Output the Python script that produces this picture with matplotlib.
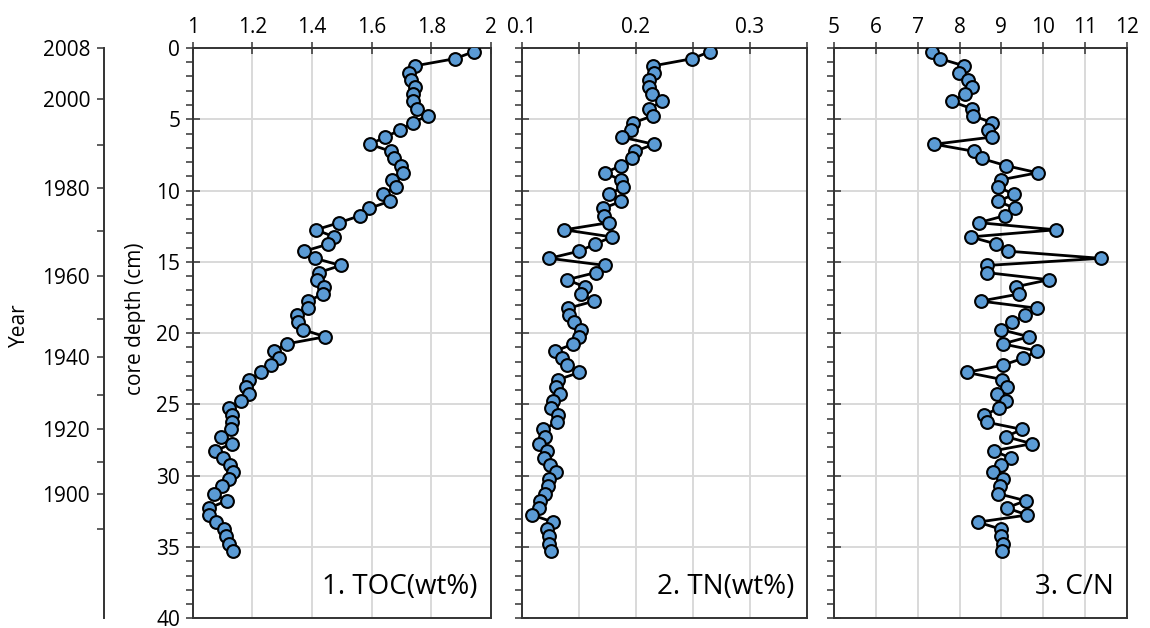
import numpy as np
import matplotlib
matplotlib.use("Agg")
from matplotlib import pyplot as plt
from matplotlib.ticker import MultipleLocator, FuncFormatter

plt.rcParams['font.family'] = ['Open Sans', 'DejaVu Sans']

# sample depths (cm), one every half centimetre
depth = [0.25, 0.75, 1.25, 1.75, 2.25, 2.75, 3.25, 3.75, 4.25, 4.75,
         5.25, 5.75, 6.25, 6.75, 7.25, 7.75, 8.25, 8.75, 9.25, 9.75,
         10.25, 10.75, 11.25, 11.75, 12.25, 12.75, 13.25, 13.75, 14.25, 14.75,
         15.25, 15.75, 16.25, 16.75, 17.25, 17.75, 18.25, 18.75, 19.25, 19.75,
         20.25, 20.75, 21.25, 21.75, 22.25, 22.75, 23.25, 23.75, 24.25, 24.75,
         25.25, 25.75, 26.25, 26.75, 27.25, 27.75, 28.25, 28.75, 29.25, 29.75,
         30.25, 30.75, 31.25, 31.75, 32.25, 32.75, 33.25, 33.75, 34.25, 34.75,
         35.25]

toc = [1.943, 1.879, 1.746, 1.726, 1.731, 1.745, 1.740, 1.740, 1.753, 1.787,
       1.737, 1.695, 1.645, 1.594, 1.664, 1.674, 1.699, 1.704, 1.668, 1.680,
       1.639, 1.660, 1.591, 1.562, 1.491, 1.413, 1.475, 1.455, 1.374, 1.410,
       1.496, 1.422, 1.416, 1.441, 1.435, 1.388, 1.388, 1.349, 1.352, 1.369,
       1.444, 1.315, 1.274, 1.289, 1.263, 1.228, 1.188, 1.177, 1.188, 1.162,
       1.122, 1.131, 1.131, 1.127, 1.096, 1.131, 1.075, 1.102, 1.124, 1.136,
       1.120, 1.099, 1.070, 1.114, 1.056, 1.056, 1.077, 1.104, 1.111, 1.120,
       1.136]

tn = [0.2650, 0.2495, 0.2154, 0.2162, 0.2113, 0.2113, 0.2139, 0.2230, 0.2119, 0.2148,
      0.1978, 0.1958, 0.1876, 0.2157, 0.1993, 0.1967, 0.1873, 0.1727, 0.1867, 0.1891,
      0.1762, 0.1873, 0.1710, 0.1721, 0.1762, 0.1374, 0.1789, 0.1643, 0.1502, 0.1242,
      0.1733, 0.1648, 0.1397, 0.1552, 0.1517, 0.1634, 0.1406, 0.1415, 0.1462, 0.1520,
      0.1502, 0.1453, 0.1295, 0.1350, 0.1400, 0.1505, 0.1321, 0.1298, 0.1336, 0.1272,
      0.1257, 0.1315, 0.1310, 0.1184, 0.1204, 0.1152, 0.1219, 0.1196, 0.1248, 0.1298,
      0.1242, 0.1234, 0.1204, 0.1164, 0.1152, 0.1091, 0.1277, 0.1225, 0.1237, 0.1242,
      0.1254]

cn = [7.333, 7.532, 8.105, 7.994, 8.209, 8.288, 8.129, 7.811, 8.288, 8.328,
      8.782, 8.686, 8.766, 7.396, 8.352, 8.527, 9.108, 9.865, 8.981, 8.909,
      9.307, 8.925, 9.323, 9.092, 8.463, 10.295, 8.264, 8.877, 9.164, 11.369,
      8.662, 8.646, 10.135, 9.339, 9.427, 8.503, 9.857, 9.554, 9.259, 8.989,
      9.658, 9.029, 9.857, 9.522, 9.029, 8.169, 9.021, 9.140, 8.901, 9.108,
      8.933, 8.591, 8.662, 9.498, 9.100, 9.729, 8.814, 9.220, 8.981, 8.790,
      9.029, 8.965, 8.917, 9.578, 9.124, 9.618, 8.439, 8.989, 8.989, 9.029,
      9.013]

# age model: depth of each decade mark
years = [2008, 2000, 1990, 1980, 1970, 1960, 1950, 1940, 1930, 1920, 1910, 1900, 1890]
year_depths = [0, 3.57, 6.8, 9.8, 12.8, 16.0, 19.0, 21.7, 24.3, 26.74, 29.0, 31.27, 33.73]

panel_titles = ['1. TOC(wt%)', '2. TN(wt%)', '3. C/N']

spine_col = '#333333'
fs = 15

fig = plt.figure(figsize=(11.5, 6.28), dpi=100)
bot, hgt = 0.0153, 0.9083
lefts = [0.1676, 0.4537, 0.7252]
widths = [0.2594, 0.2481, 0.2548]


def style_panel(ax, xmin, xmax, step, label_fn):
    ax.set_xlim(xmin, xmax)
    ax.set_ylim(40, 0)
    ax.xaxis.set_major_locator(MultipleLocator(step))
    ax.xaxis.set_major_formatter(FuncFormatter(label_fn))
    ax.yaxis.set_major_locator(MultipleLocator(5))
    ax.yaxis.set_minor_locator(MultipleLocator(1))
    ax.xaxis.tick_top()
    ax.tick_params(axis='x', which='major', direction='inout', length=8, width=1.1,
                   color=spine_col, labelsize=fs, pad=3)
    ax.tick_params(axis='y', which='major', direction='inout', length=10, width=1.1,
                   color=spine_col, labelsize=fs, pad=4)
    ax.tick_params(axis='y', which='minor', direction='out', length=5, width=1.1,
                   color=spine_col)
    ax.grid(True, which='major', color='#d9d9d9', linewidth=1.4)
    ax.set_axisbelow(True)
    for s in ax.spines.values():
        s.set_color(spine_col)
        s.set_linewidth(1.4)


def plot_profile(ax, vals, title):
    ax.plot(vals, depth, color='black', lw=2.0, marker='o', ms=9.2,
            mfc='#5b9bd5', mec='black', mew=1.5, zorder=3)
    ax.text(0.955, 0.055, title, transform=ax.transAxes, ha='right', va='center',
            fontsize=20)


ax1 = fig.add_axes([lefts[0], bot, widths[0], hgt])
style_panel(ax1, 1, 2, 0.2, lambda v, p: '%g' % round(v, 2))
plot_profile(ax1, toc, panel_titles[0])

ax2 = fig.add_axes([lefts[1], bot, widths[1], hgt])
style_panel(ax2, 0.1, 0.35, 0.05,
            lambda v, p: ('%g' % round(v, 2)) if abs(v * 10 - round(v * 10)) < 1e-6 else '')
ax2.set_yticklabels([])
plot_profile(ax2, tn, panel_titles[1])

ax3 = fig.add_axes([lefts[2], bot, widths[2], hgt])
style_panel(ax3, 5, 12, 1, lambda v, p: '%d' % round(v))
ax3.set_yticklabels([])
plot_profile(ax3, cn, panel_titles[2])

fig.text(0.1175, 1 - 319 / 628, 'core depth (cm)', rotation=90, ha='center', va='center',
         fontsize=fs)

# separate year axis on the far left
axy = fig.add_axes([104 / 1150, bot, 0.0001, hgt])
axy.set_ylim(40, 0)
axy.set_facecolor('none')
for k in ['top', 'right', 'bottom']:
    axy.spines[k].set_visible(False)
axy.spines['left'].set_color(spine_col)
axy.spines['left'].set_linewidth(1.4)
axy.set_xticks([])
axy.set_yticks(year_depths)
axy.set_yticklabels([str(y) if (y == 2008 or y % 20 == 0) else '' for y in years])
axy.tick_params(axis='y', direction='out', length=5, width=1.1, color=spine_col,
                labelsize=fs, pad=5)
fig.text(0.017, 1 - 325 / 628, 'Year', rotation=90, ha='center', va='center', fontsize=fs)

fig.savefig('out.png', dpi=100)
